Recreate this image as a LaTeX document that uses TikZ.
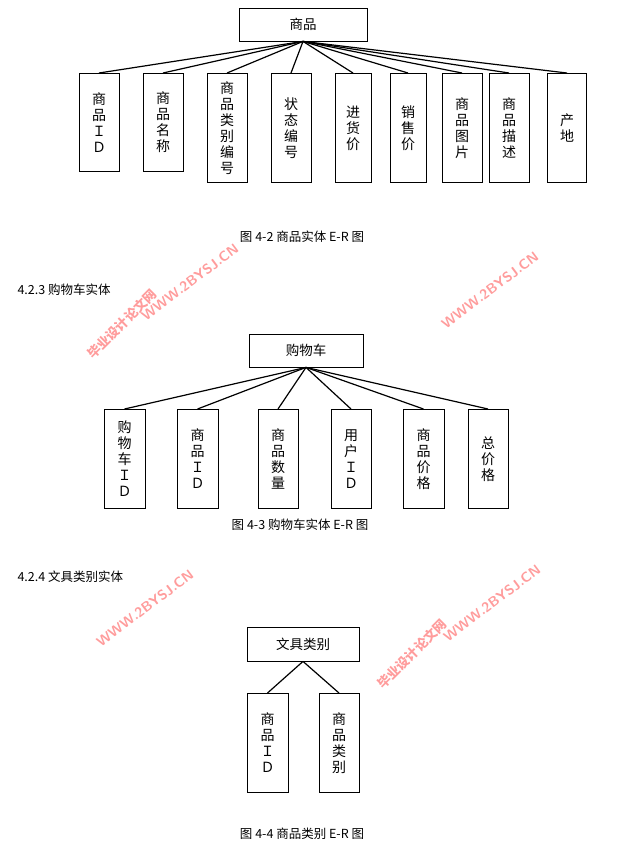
\documentclass[tikz,border=0pt]{standalone}
\usepackage{fontspec}
\newfontfamily\cjk{Noto Sans CJK SC}
\begin{document}
\begin{tikzpicture}[x=1pt,y=-1pt,
  ent/.style={draw,line width=0.8pt,font=\cjk\fontsize{13.5}{13.5}\selectfont,inner sep=0},
  attr/.style={draw,line width=0.8pt,font=\cjk\fontsize{14}{16}\selectfont,align=center,inner sep=0},
  lnk/.style={line width=1.2pt},
  captxt/.style={font=\cjk\fontsize{12.5}{12.5}\selectfont},
  wm/.style={font=\sffamily\bfseries\fontsize{14}{14}\selectfont,text=red!70,opacity=0.55,rotate=37},
  wmc/.style={font=\cjk\bfseries\fontsize{13}{13}\selectfont,text=red!70,opacity=0.55,rotate=45}]
\useasboundingbox[fill=white] (0,0) rectangle (621,863);
% diagram 1
\node[ent,minimum width=128,minimum height=33] (sp) at (303,24.5) {商品};
\newcommand\abox[6]{\node[attr,minimum width=#3,minimum height=#4,anchor=north] (#1) at (#2,#5) {#6};}
\abox{a1}{99}{40}{98}{73}{商\\品\\Ｉ\\Ｄ}
\abox{a2}{163}{40}{98}{73}{商\\品\\名\\称}
\abox{a3}{227}{40}{109}{73}{商\\品\\类\\别\\编\\号}
\abox{a4}{291}{40}{109}{73}{状\\态\\编\\号}
\abox{a5}{353}{36}{109}{73}{进\\货\\价}
\abox{a6}{408}{36}{109}{73}{销\\售\\价}
\abox{a7}{462}{40}{109}{73}{商\\品\\图\\片}
\abox{a8}{509}{40}{109}{73}{商\\品\\描\\述}
\abox{a9}{567}{39}{109}{73}{产\\地}
\foreach \n in {a1,a2,a3,a4,a5,a6,a7,a8,a9} \draw[lnk] (sp.south) -- (\n.north);
\node[captxt] (c1) at (302,237) {图 4-2 商品实体 E-R 图};
\node[captxt,anchor=west] (h1) at (14,290) {4.2.3 购物车实体};
% diagram 2
\node[ent,minimum width=114,minimum height=33] (gwc) at (306,350.5) {购物车};
\abox{b1}{124.5}{41}{99}{409}{购\\物\\车\\Ｉ\\Ｄ}
\abox{b2}{197.5}{41}{99}{409}{商\\品\\Ｉ\\Ｄ}
\abox{b3}{278}{40}{99}{409}{商\\品\\数\\量}
\abox{b4}{351}{40}{99}{409}{用\\户\\Ｉ\\Ｄ}
\abox{b5}{423.5}{41}{99}{409}{商\\品\\价\\格}
\abox{b6}{488}{40}{99}{409}{总\\价\\格}
\foreach \n in {b1,b2,b3,b4,b5,b6} \draw[lnk] (gwc.south) -- (\n.north);
\node[captxt] (c2) at (300,525) {图 4-3 购物车实体 E-R 图};
\node[captxt,anchor=west] (h2) at (14,577) {4.2.4 文具类别实体};
% diagram 3
\node[ent,minimum width=112,minimum height=34] (wj) at (303,644) {文具类别};
\abox{d1}{267.5}{41}{99}{693}{商\\品\\Ｉ\\Ｄ}
\abox{d2}{339}{40}{99}{693}{商\\品\\类\\别}
\draw[lnk] (wj.south) -- (d1.north);
\draw[lnk] (wj.south) -- (d2.north);
\node[captxt] (c3) at (302,834) {图 4-4 商品类别 E-R 图};
% watermarks
\node[wm] (w1) at (190,282) {WWW.2BYSJ.CN};
\node[wm] (w2) at (490,290) {WWW.2BYSJ.CN};
\node[wm] (w3) at (145,608) {WWW.2BYSJ.CN};
\node[wm] (w4) at (492,603) {WWW.2BYSJ.CN};
\node[wmc] (w5) at (122,324) {毕业设计论文网};
\node[wmc] (w6) at (412,654) {毕业设计论文网};
\end{tikzpicture}
\end{document}
